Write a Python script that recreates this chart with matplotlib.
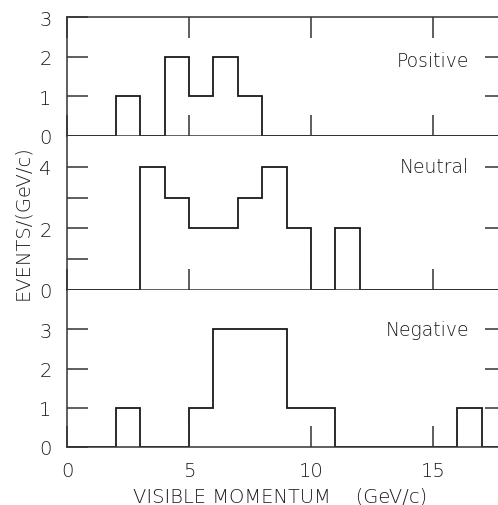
import matplotlib

matplotlib.use("Agg")
import matplotlib.pyplot as plt

# 1 GeV/c bins, counts per bin for each charge class
bin_edges = list(range(0, 19))
positive = [0, 0, 1, 0, 2, 1, 2, 1, 0, 0, 0, 0, 0, 0, 0, 0, 0, 0]
neutral = [0, 0, 0, 4, 3, 2, 2, 3, 4, 2, 0, 2, 0, 0, 0, 0, 0, 0]
negative = [0, 0, 1, 0, 0, 1, 3, 3, 3, 1, 1, 0, 0, 0, 0, 0, 1, 0]

x_ticks = [0, 5, 10, 15]
x_ticklabels = ["0", "5", "10", "15"]

plt.rcParams["font.family"] = ["DejaVu Sans"]
plt.rcParams["font.weight"] = "light"

FIG_W, FIG_H = 498, 506
fig = plt.figure(figsize=(FIG_W / 100, FIG_H / 100), dpi=100)

LEFT, RIGHT = 67, 506  # right spine falls just outside the frame


def add_panel(top, bottom):
    return fig.add_axes([LEFT / FIG_W, 1 - bottom / FIG_H,
                         (RIGHT - LEFT) / FIG_W, (bottom - top) / FIG_H])


# (counts, ylim, major ticks, labelled ticks, right ticks, title, title y, px top, px bottom, top x ticks)
panels = [
    (positive, 3, [0, 1, 2, 3], [0, 1, 2, 3], [1, 2], "Positive", 1.9, 18, 137, True),
    (neutral, 5, [0, 1, 2, 3, 4], [0, 2, 4], [2, 4], "Neutral", 4.0, 137, 291, False),
    (negative, 4, [0, 1, 2, 3], [0, 1, 2, 3], [1, 2, 3], "Negative", 3.0, 291, 448, False),
]

lw = 1.1
ink = "#1a1a1a"
for i, (counts, ymax, yt, ylab, rt, name, ty, ptop, pbot, topticks) in enumerate(panels):
    ax = add_panel(ptop, pbot)
    ax.stairs(counts, bin_edges, color=ink, linewidth=1.3, baseline=None)
    ax.set_xlim(0, 18)
    ax.set_ylim(0, ymax)
    for s in ax.spines.values():
        s.set_linewidth(lw)
        s.set_color("#333333")
    ax.spines["right"].set_visible(False)
    if i > 0:
        ax.spines["top"].set_visible(False)

    ax.set_yticks(yt)
    ax.set_yticklabels([str(v) if v in ylab else "" for v in yt])
    ax.tick_params(axis="y", direction="in", length=15, width=lw, pad=11,
                   labelsize=14, colors="#333333", labelcolor=ink)
    # inward ticks on the right edge
    sec = ax.secondary_yaxis("right")
    sec.set_yticks(rt)
    sec.set_yticklabels([])
    sec.spines["right"].set_visible(False)
    sec.tick_params(direction="in", length=15, width=lw, colors="#333333")

    ax.set_xticks(x_ticks)
    ax.tick_params(axis="x", direction="in", length=15, width=lw, top=topticks,
                   colors="#333333", labelcolor=ink, labelsize=14, pad=10)
    if i == 2:
        ax.set_xticklabels(x_ticklabels)
    else:
        ax.set_xticklabels([])

    ax.text(16.5, ty, name, ha="right", va="center", fontsize=13.5, color=ink)

fig.text(280 / FIG_W, 1 - 497 / FIG_H, "VISIBLE MOMENTUM    (GeV/c)",
         ha="center", va="center", fontsize=14, color=ink)
fig.text(23 / FIG_W, 1 - 223 / FIG_H, "EVENTS/(GeV/c)", rotation=90,
         ha="center", va="center", fontsize=14, color=ink)

fig.savefig("out.png", dpi=100)
